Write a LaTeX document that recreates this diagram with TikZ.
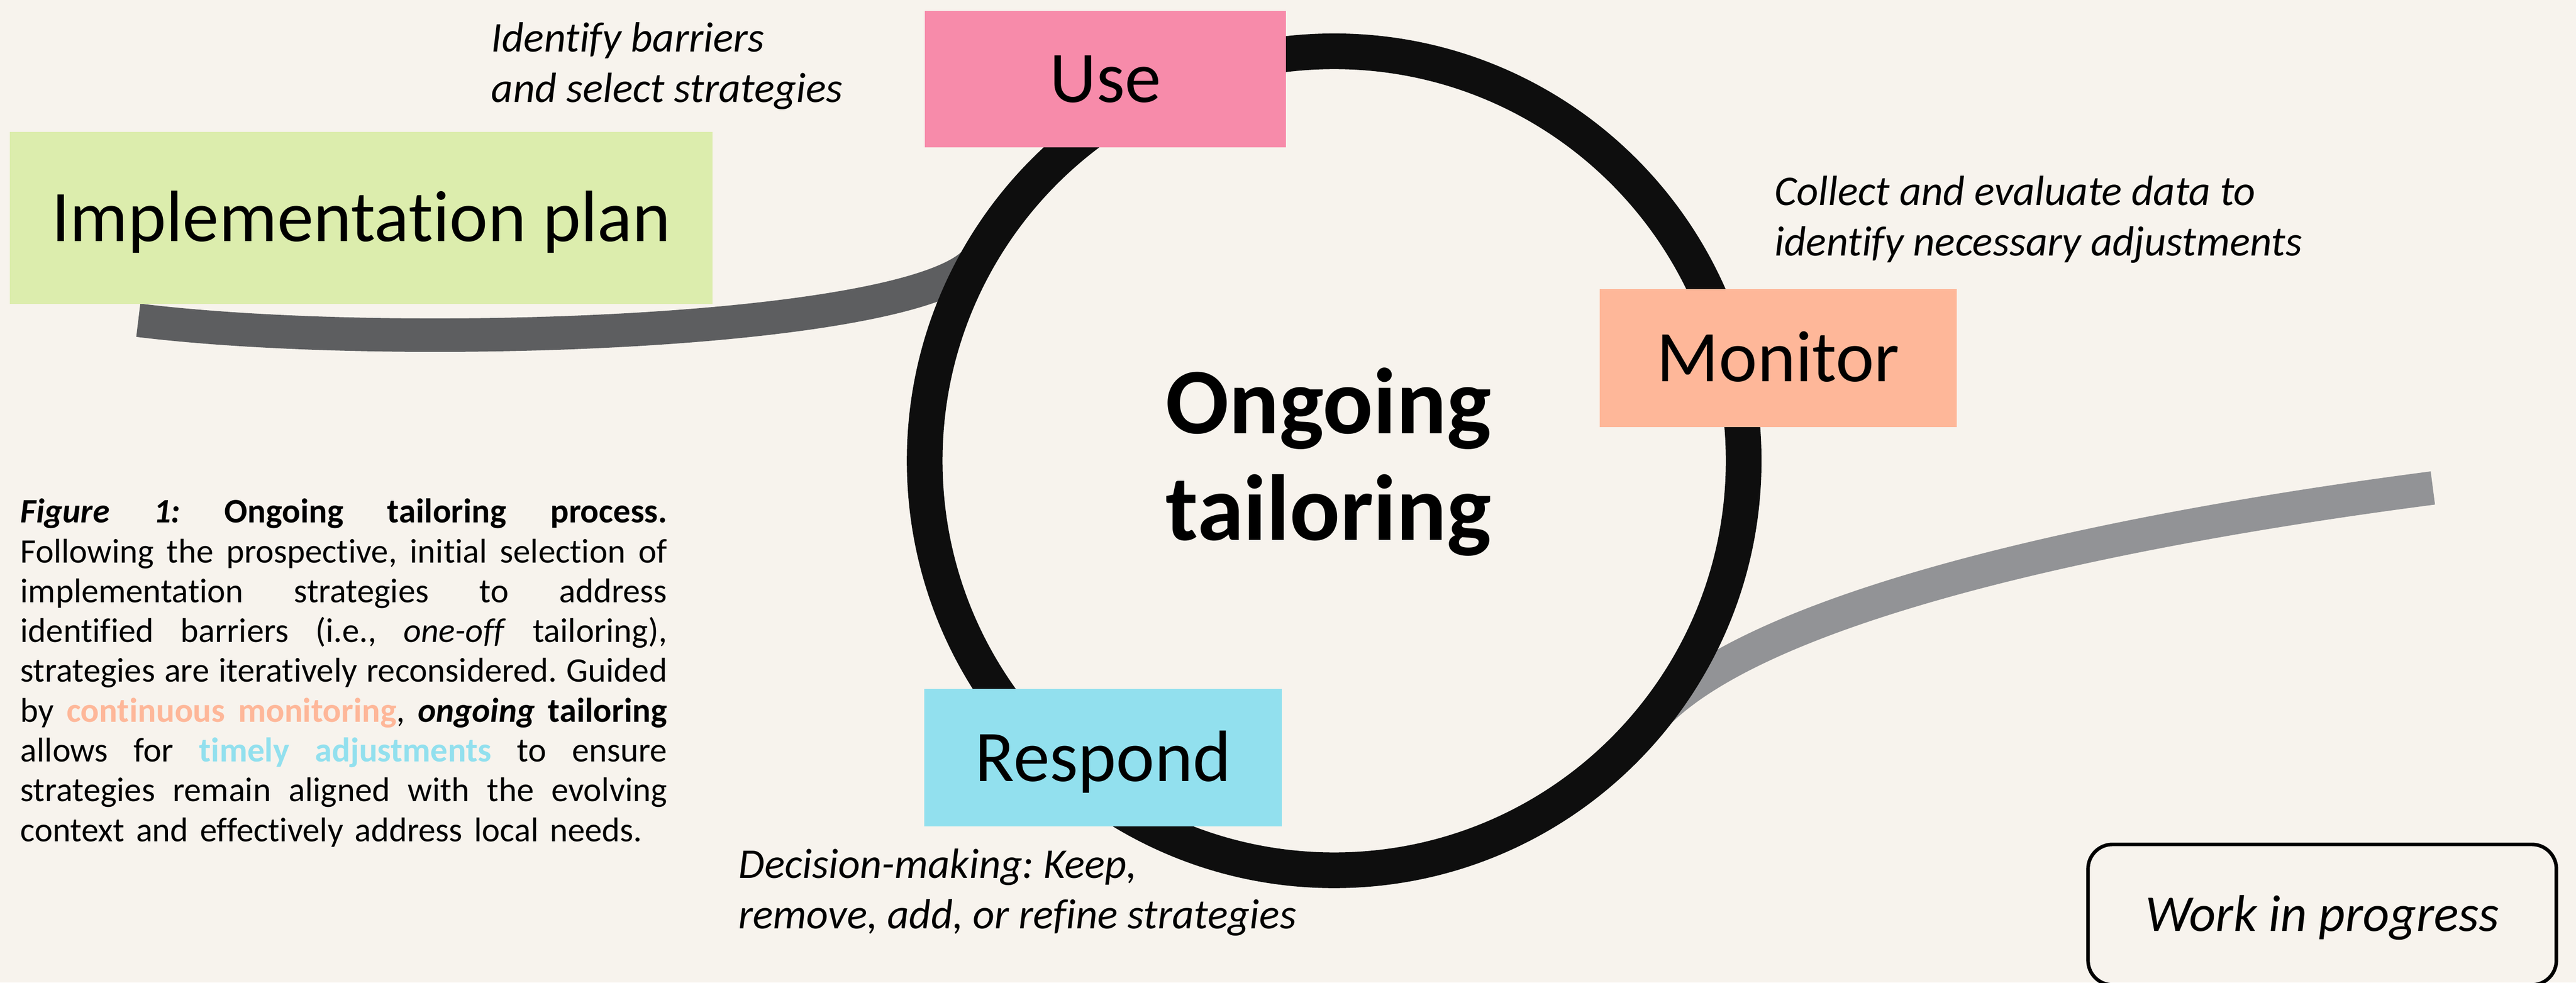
\documentclass[tikz,border=0pt]{standalone}
\usepackage{fontspec}
\setmainfont{Carlito}[Ligatures=NoCommon]
\frenchspacing

\definecolor{paper}{HTML}{F7F3ED}
\definecolor{ringcol}{HTML}{0E0E0E}
\definecolor{banddark}{HTML}{5D5E60}
\definecolor{bandlight}{HTML}{929396}
\definecolor{planfill}{HTML}{DCEDAD}
\definecolor{usefill}{HTML}{F78BAA}
\definecolor{monfill}{HTML}{FEB799}
\definecolor{respfill}{HTML}{92E0EE}

% one justified caption line
\newcommand{\figline}[1]{\makebox[14.5cm][s]{\spaceskip=0.23em plus 1fil\xspaceskip=\spaceskip\relax #1}}

\begin{document}
\begin{tikzpicture}[
        stage/.style={rectangle, inner sep=0pt, text height=1.05cm, text depth=0pt,
            font=\fontsize{46.4}{55}\selectfont},
        note/.style={anchor=base west, align=left, inner sep=0pt,
            font=\fontsize{27}{32.2}\selectfont\itshape},
        band/.style={line width=0.75cm},
        ring/.style={line width=0.8cm, draw=ringcol}
    ]
        % Page and background
        \useasboundingbox (0,0) rectangle (57.75,-22.03);
        \fill[paper] (0,0) rectangle (57.75,-22.03);

        % Centre of the cycle
        \coordinate (hub) at (29.91,-10.33);

        % Band from the plan into the cycle
        \coordinate (planend) at (3.10,-7.18);
        \coordinate (ringin) at (21.96,-5.74);
        \draw[band, draw=banddark] (planend) .. controls (9.00,-7.90) and (20.96,-7.47) .. (ringin);

        % Band leaving the cycle
        \coordinate (ringout) at (36.94,-16.23);
        \coordinate (farend) at (54.54,-10.94);
        \draw[band, draw=bandlight] (ringout) .. controls (39.19,-13.55) and (47.60,-11.84) .. (farend);

        % The cycle itself
        \draw[ring] (hub) circle[radius=9.18];

        % Stage boxes
        \node[stage, fill=planfill, minimum width=15.75cm, minimum height=3.85cm] (plan) at (8.095,-4.885) {Implementation plan};
        \node[stage, fill=usefill, minimum width=8.10cm, minimum height=3.06cm] (use) at (24.78,-1.77) {Use};
        \node[stage, fill=monfill, minimum width=8.01cm, minimum height=3.09cm] (monitor) at (39.865,-8.025) {Monitor};
        \node[stage, fill=respfill, minimum width=8.02cm, minimum height=3.09cm] (respond) at (24.73,-16.985) {Respond};

        % Label in the middle (base = last line)
        \node[anchor=base, align=center, inner sep=0pt, font=\fontsize{59.8}{68}\selectfont\bfseries] (hublabel) at (29.78,-12.11) {Ongoing\\tailoring};

        % Notes next to the stages (base = last line)
        \node[note] (barriers) at (11.01,-2.29) {Identify barriers\\and select strategies};
        \node[note] (adjust) at (39.78,-5.73) {Collect and evaluate data to\\identify necessary adjustments};
        \node[note] (decide) at (16.55,-20.82) {Decision-making: Keep,\\remove, add, or refine strategies};

        % Work in progress tag
        \node[draw, line width=0.08cm, rounded corners=0.55cm, minimum width=10.50cm, minimum height=3.15cm,
            inner sep=0pt, text height=0.75cm, text depth=0pt, font=\fontsize{33}{40}\selectfont\itshape] (wip) at (52.06,-20.505) {Work in progress};

        % Figure caption
        \node[anchor=base west, text width=14.5cm, inner sep=0pt, align=left, font=\fontsize{21.9}{25.4}\selectfont] (caption) at (0.45,-11.72) {%
            \figline{\textbf{\textit{Figure 1:}} \textbf{Ongoing tailoring process.}}\\
            \figline{Following the prospective, initial selection of}\\
            \figline{implementation strategies to address}\\
            \figline{identified barriers (i.e., \textit{one-off} tailoring),}\\
            \figline{strategies are iteratively reconsidered. Guided}\\
            \figline{by \textbf{\color{monfill}continuous monitoring}, \textbf{\textit{ongoing}} \textbf{tailoring}}\\
            \figline{allows for \textbf{\color{respfill}timely adjustments} to ensure}\\
            \figline{strategies remain aligned with the evolving}\\
            context and effectively address local needs.};
    \end{tikzpicture}
\end{document}
